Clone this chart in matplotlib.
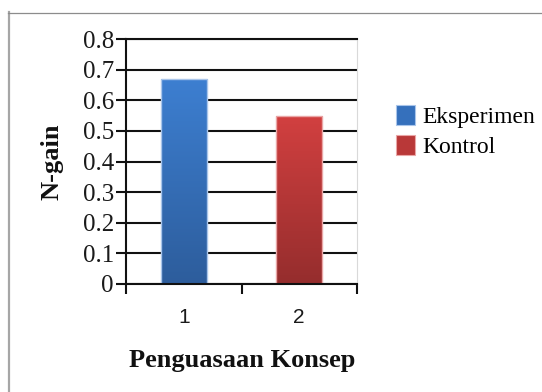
import numpy as np
import matplotlib
matplotlib.use("Agg")
import matplotlib.pyplot as plt
from matplotlib import font_manager as fm
from matplotlib.lines import Line2D
from matplotlib.colors import LinearSegmentedColormap
from matplotlib.patches import Patch

# Data
categories = ["1", "2"]
series_names = ["Eksperimen", "Kontrol"]
ngain_values = [0.67, 0.55]
y_ticks = [0, 0.1, 0.2, 0.3, 0.4, 0.5, 0.6, 0.7, 0.8]
y_tick_labels = ["0", "0.1", "0.2", "0.3", "0.4", "0.5", "0.6", "0.7", "0.8"]

# Style: top/bottom gradient colours and edge colour per series
grad_colors = [("#3d7fd1", "#2d5d9c"), ("#d24040", "#952d2d")]
edge_colors = ["#a9c5ea", "#eaa6a6"]

# Resolve font files once so every text uses exactly these faces
serif_path = fm.findfont(fm.FontProperties(family="Liberation Serif"))
serif_bold_path = fm.findfont(fm.FontProperties(family="Liberation Serif", weight="bold"))
sans_path = fm.findfont(fm.FontProperties(family="Liberation Sans"))


def serif(size):
    return fm.FontProperties(fname=serif_path, size=size)


def serif_bold(size):
    return fm.FontProperties(fname=serif_bold_path, size=size)


def sans(size):
    return fm.FontProperties(fname=sans_path, size=size)


W, H, DPI = 542, 392, 100
fig = plt.figure(figsize=(W / DPI, H / DPI), dpi=DPI)
fig.patch.set_facecolor("white")

# Frame lines on the left and top of the canvas
fig.add_artist(Line2D([9 / W, 9 / W], [0, 1 - 12 / H], color="#a6a6a6", lw=1.6,
                      transform=fig.transFigure))
fig.add_artist(Line2D([8 / W, 1], [1 - 12.5 / H, 1 - 12.5 / H], color="#8c8c8c", lw=0.9,
                      transform=fig.transFigure))

ax_l, ax_r, ax_t, ax_b = 126, 357, 39, 284
ax = fig.add_axes([ax_l / W, 1 - ax_b / H, (ax_r - ax_l) / W, (ax_b - ax_t) / H])

x = np.arange(1, len(categories) + 1)
bars = ax.bar(x, ngain_values, width=0.4, color=[c[0] for c in grad_colors],
              edgecolor="none", zorder=2)

# Vertical gradient fill inside each bar
grad = np.linspace(0, 1, 256).reshape(-1, 1)
for patch, (top, bottom) in zip(bars.patches, grad_colors):
    cmap = LinearSegmentedColormap.from_list("g", [bottom, top])
    x0, y0 = patch.get_x(), patch.get_y()
    w, h = patch.get_width(), patch.get_height()
    im = ax.imshow(grad, extent=(x0, x0 + w, y0, y0 + h), origin="lower",
                   cmap=cmap, aspect="auto", zorder=2.2, interpolation="bilinear")
    im.set_clip_path(patch)

# Light outline around bars
ax.bar(x, ngain_values, width=0.4, fill=False, edgecolor=edge_colors, lw=1.0, zorder=2.5)

ax.set_xlim(0.5, 2.5)
ax.set_ylim(0, 0.8)

# Gridlines
ax.set_axisbelow(True)
ax.yaxis.grid(True, color="#111111", lw=1.5)
ax.xaxis.grid(False)

ax.set_yticks(y_ticks)
ax.set_yticklabels(y_tick_labels, fontproperties=serif(18), color="#1a1a1a")
ax.tick_params(axis="y", direction="out", length=7.2, width=1.5, color="#111111", pad=1.5)

# Category boundaries as major ticks, category labels on minor ticks
ax.set_xticks([0.5, 1.5, 2.5])
ax.set_xticklabels([])
ax.tick_params(axis="x", which="major", direction="out", length=7.2, width=1.5, color="#111111")
ax.set_xticks(x, minor=True)
ax.set_xticklabels(categories, minor=True, fontproperties=sans(15), color="#1a1a1a")
ax.tick_params(axis="x", which="minor", length=0, pad=17)

for side in ["left", "bottom", "top"]:
    ax.spines[side].set_color("#111111")
    ax.spines[side].set_linewidth(1.5)
ax.spines["right"].set_color("#d9d9d9")
ax.spines["right"].set_linewidth(0.8)

fig.text(52 / W, 1 - 162 / H, "N-gain", rotation=90, ha="center", va="center",
         fontproperties=serif_bold(19), color="#111111")
fig.text(242 / W, 1 - 360 / H, "Penguasaan Konsep", ha="center", va="center",
         fontproperties=serif_bold(19), color="#111111")

handles = [Patch(facecolor=c, edgecolor=e, lw=0.8) for c, e in zip(
    ["#3570bc", "#b93838"], edge_colors)]
fig.legend(handles, series_names, loc="upper left",
           bbox_to_anchor=(396 / W, 1 - 105 / H), frameon=False, borderpad=0,
           borderaxespad=0, handlelength=0.8, handleheight=0.9, handletextpad=0.3,
           labelspacing=0.3, prop=serif(17))

fig.savefig("out.png", dpi=DPI, facecolor="white")
